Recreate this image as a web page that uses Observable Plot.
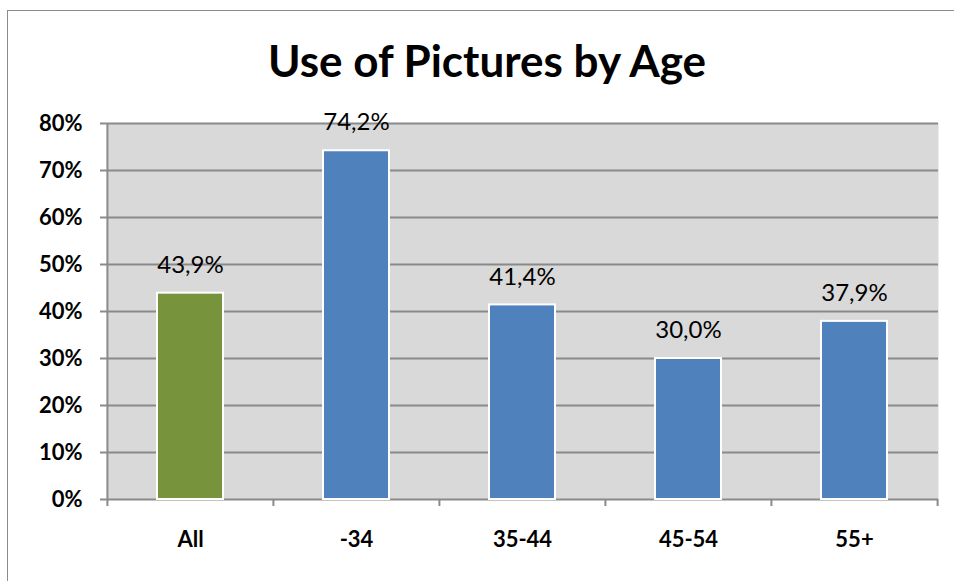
<!DOCTYPE html>
<html>
<head>
<meta charset="utf-8">
<script src="https://cdn.jsdelivr.net/npm/d3@7"></script>
<script src="https://cdn.jsdelivr.net/npm/@observablehq/plot@0.6"></script>
<style>
  html, body { margin: 0; padding: 0; background: #fff; overflow: hidden; }
  #wrap { position: relative; width: 954px; height: 581px; }
  #border { position: absolute; left: 7px; top: 10px; width: 960px; height: 600px; border: 1.5px solid #8c8c8c; box-sizing: border-box; }
  #chart { position: absolute; left: 0; top: 0; }
</style>
</head>
<body>
<div id="wrap"><div id="border"></div><div id="chart"></div></div>
<script>
const title = "Use of Pictures by Age";
const categories = ["All", "-34", "35-44", "45-54", "55+"];
const values = [0.439, 0.742, 0.414, 0.300, 0.379];
const colors = ["#77933c", "#4f81bd", "#4f81bd", "#4f81bd", "#4f81bd"];
const yTicks = [0, 0.1, 0.2, 0.3, 0.4, 0.5, 0.6, 0.7, 0.8];

const data = categories.map((c, i) => ({cat: c, value: values[i], color: colors[i]}));
const locale = d3.formatLocale({decimal: ",", thousands: ".", grouping: [3], currency: ["", "€"]});
const fmtVal = locale.format(".1%");
const fmtTick = d3.format(".0%");

const W = 954, H = 581, mL = 107, mR = 16, mT = 123, mB = 82;
const step = (W - mL - mR) / categories.length;
const font = "Lato, 'Open Sans', sans-serif";
const gridColor = "#8a8a8a";

const plot = Plot.plot({
  width: W, height: H,
  marginLeft: mL, marginRight: mR, marginTop: mT, marginBottom: mB,
  style: {fontFamily: font, background: "transparent", overflow: "visible"},
  x: {type: "band", domain: categories, paddingInner: 0.6, paddingOuter: 0.3, label: null},
  y: {type: "linear", domain: [0, 0.8], label: null},
  marks: [
    Plot.frame({fill: "#d9d9d9", stroke: null}),
    Plot.ruleY(yTicks, {stroke: gridColor, strokeWidth: 2}),
    Plot.barY(data, {x: "cat", y: "value", fill: "color", stroke: "#ffffff", strokeWidth: 2}),
    Plot.ruleX([categories[0]], {dx: -step / 2, y1: 0, y2: 0.8, stroke: gridColor, strokeWidth: 2}),
    Plot.ruleX(categories, {dx: -step / 2, y1: 0, y2: 0, insetBottom: -7, stroke: gridColor, strokeWidth: 2}),
    Plot.ruleX([categories[categories.length - 1]], {dx: step / 2, y1: 0, y2: 0, insetBottom: -7, stroke: gridColor, strokeWidth: 2}),
    Plot.axisY(yTicks, {tickFormat: fmtTick, tickSize: 7, tickPadding: 18, stroke: gridColor, strokeWidth: 2, fill: "#000", fontSize: 22, fontWeight: "bold"}),
    Plot.axisX({tickSize: 0, tickPadding: 32, fontSize: 22, fontWeight: "bold", fill: "#000"}),
    Plot.text(data, {x: "cat", y: "value", text: d => fmtVal(d.value), dy: -28, fontSize: 24, fill: "#000"}),
    Plot.text([title], {frameAnchor: "top", lineAnchor: "middle", text: d => d, dy: -61, dx: -36, fontSize: 44, fontWeight: "bold", fill: "#000"})
  ]
});
document.getElementById("chart").appendChild(plot);
</script>
</body>
</html>
